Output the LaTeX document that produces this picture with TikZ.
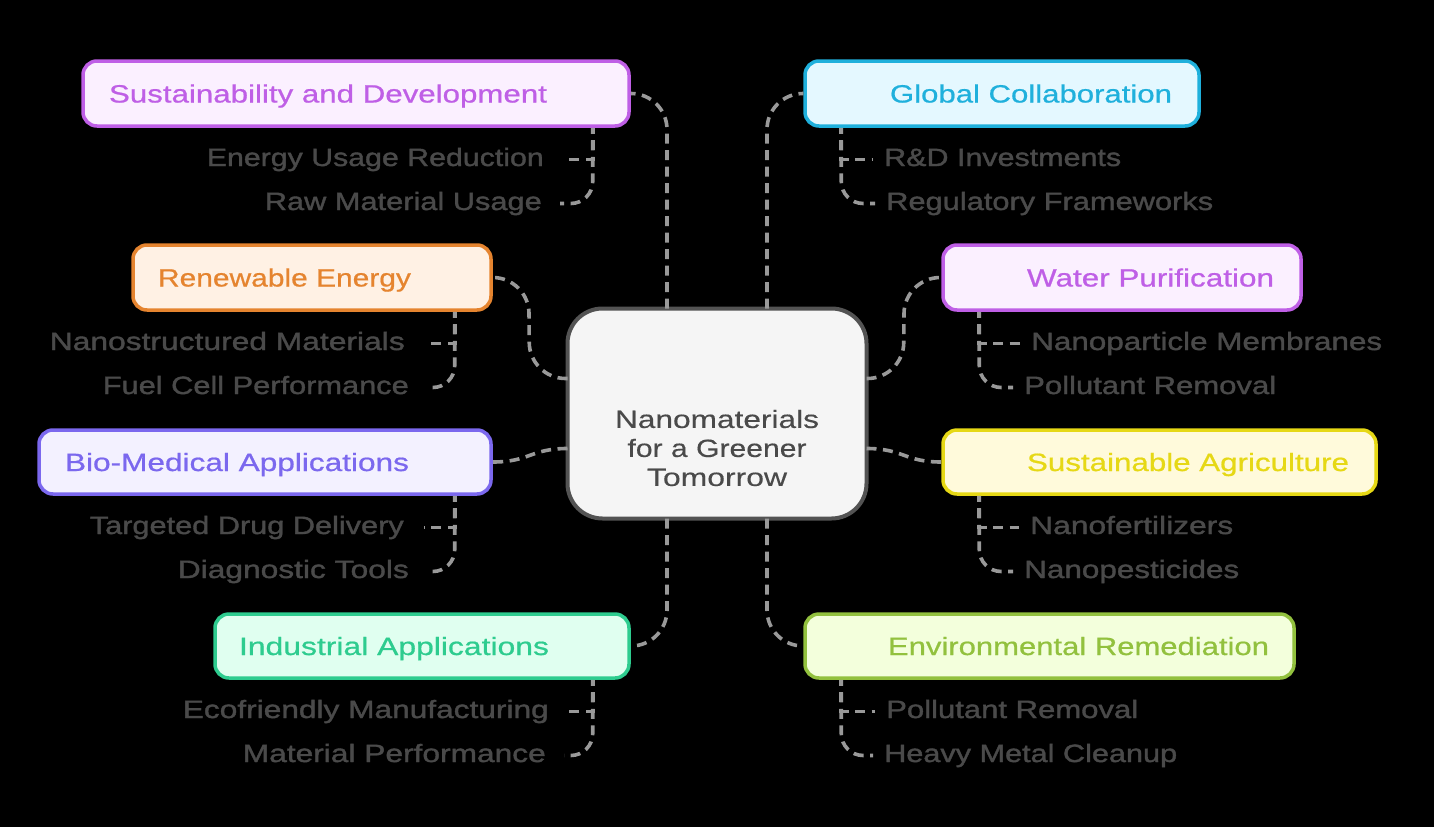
\documentclass[tikz,border=0pt]{standalone}
\usepackage{graphicx}
\usepackage{fontspec}
\setmainfont[FakeStretch=1.2,FakeBold=0.3]{Liberation Sans}
\newfontfamily\medfont[FakeStretch=1.2,FakeBold=0.7]{Liberation Sans}
\newfontfamily\kidfont[FakeStretch=1.2,FakeBold=1.4]{Liberation Sans}
\usetikzlibrary{calc}
\definecolor{cgray}{HTML}{999999}
\definecolor{tgray}{HTML}{4A4A4A}
\definecolor{purp}{HTML}{BF5FE6}\definecolor{purpf}{HTML}{FBF0FF}
\definecolor{cyan}{HTML}{1FB0DC}\definecolor{cyanf}{HTML}{E4F8FF}
\definecolor{oran}{HTML}{E5842F}\definecolor{oranf}{HTML}{FFF1E4}
\definecolor{viol}{HTML}{7B68EE}\definecolor{violf}{HTML}{F3F1FF}
\definecolor{yell}{HTML}{E6D815}\definecolor{yellf}{HTML}{FFFADB}
\definecolor{gree}{HTML}{2ECC8F}\definecolor{greef}{HTML}{E0FFF0}
\definecolor{lime}{HTML}{92C13E}\definecolor{limef}{HTML}{F3FFDC}
\newcommand{\fitw}[2]{\resizebox{#1pt}{\height}{#2}}
\tikzset{
  topic/.style={draw=#1,fill=#1f,text=#1,line width=3.5pt,rounded corners=14,inner ysep=0pt,
     font=\fontsize{25}{29}\medfont,text height=18,text depth=0},
  kid/.style={text=tgray,inner sep=0pt,font=\fontsize{25}{29}\kidfont,text height=18,text depth=5},
  conn/.style={draw=cgray,line width=3.6pt,dash pattern=on 10pt off 6.5pt},
  kidconn/.style={conn,dash phase=4pt},
  soft/.style={conn,rounded corners=#1},
}
% name, x1, y1, x2, y2, inset, colour, text width, text
\newcommand{\topicbox}[9]{%
  \pgfmathsetmacro{\bh}{#5-#3-2}\pgfmathsetmacro{\ti}{#4-#2-2-2*(#6)}%
  \node[topic=#7,inner xsep=#6,minimum height=\bh,anchor=center] (#1) at ({(#2+#4)/2},{(#3+#5)/2}) {\makebox[\ti pt][l]{\fitw{#8}{#9}}};}
\newcommand{\kidsleft}[3]{%
  \draw[kidconn] ($(#1.south east)+(-38,0)$) |- ($(#2.east)+(20,0)$);
  \draw[kidconn,rounded corners=22] ($(#1.south east)+(-38,0)$) |- ($(#3.east)+(18,0)$);}
\newcommand{\kidsright}[3]{%
  \draw[kidconn] ($(#1.south west)+(38,0)$) |- ($(#2.west)+(-11,0)$);
  \draw[kidconn,rounded corners=22] ($(#1.south west)+(38,0)$) |- ($(#3.west)+(-11,0)$);}
\begin{document}
\begin{tikzpicture}[x=1pt,y=-1pt]
\useasboundingbox (0,0) rectangle (1434,827);
\fill[black] (0,0) rectangle (1434,827);
\node[draw=tgray!95,fill=black!4,line width=4pt,rounded corners=35,minimum width=299,minimum height=210,inner sep=0pt,outer sep=0pt] (c) at (717,413.5) {};
\node[text=tgray,align=center,inner sep=0pt,font=\fontsize{25}{29}\selectfont] (ctext) at (717,448) {\fitw{204}{Nanomaterials}\\\fitw{179}{for a Greener}\\\fitw{140}{Tomorrow}};
\topicbox{sd}{82}{60}{630}{127}{26}{purp}{438}{Sustainability and Development}
\topicbox{gc}{804}{60}{1200}{127}{85}{cyan}{282}{Global Collaboration}
\topicbox{re}{132}{244}{492}{311}{25}{oran}{253}{Renewable Energy}
\topicbox{wp}{942}{244}{1302}{311}{84}{purp}{247}{Water Purification}
\topicbox{bm}{38}{429}{492}{495}{26}{viol}{344}{Bio-Medical Applications}
\topicbox{sa}{942}{429}{1377}{495}{84}{yell}{322}{Sustainable Agriculture}
\topicbox{ia}{214}{613}{630}{679}{24}{gree}{310}{Industrial Applications}
\topicbox{er}{804}{613}{1295}{679}{83}{lime}{381}{Environmental Remediation}
\node[kid,anchor=base east] (k1) at (544,166) {\fitw{337}{Energy Usage Reduction}};
\node[kid,anchor=base east] (k2) at (542,210) {\fitw{277}{Raw Material Usage}};
\node[kid,anchor=base east] (k3) at (405,350) {\fitw{355}{Nanostructured Materials}};
\node[kid,anchor=base east] (k4) at (409,394) {\fitw{306}{Fuel Cell Performance}};
\node[kid,anchor=base east] (k5) at (404,534) {\fitw{314}{Targeted Drug Delivery}};
\node[kid,anchor=base east] (k6) at (409,578) {\fitw{231}{Diagnostic Tools}};
\node[kid,anchor=base east] (k7) at (549,718) {\fitw{366}{Ecofriendly Manufacturing}};
\node[kid,anchor=base east] (k8) at (546,762) {\fitw{303}{Material Performance}};
\node[kid,anchor=base west] (m1) at (884,166) {\fitw{237}{R\&D Investments}};
\node[kid,anchor=base west] (m2) at (886,210) {\fitw{327}{Regulatory Frameworks}};
\node[kid,anchor=base west] (m3) at (1031,350) {\fitw{351}{Nanoparticle Membranes}};
\node[kid,anchor=base west] (m4) at (1024,394) {\fitw{252}{Pollutant Removal}};
\node[kid,anchor=base west] (m5) at (1030,534) {\fitw{203}{Nanofertilizers}};
\node[kid,anchor=base west] (m6) at (1024,578) {\fitw{215}{Nanopesticides}};
\node[kid,anchor=base west] (m7) at (886,718) {\fitw{252}{Pollutant Removal}};
\node[kid,anchor=base west] (m8) at (884,762) {\fitw{293}{Heavy Metal Cleanup}};
% centre connectors, each starting at the central box
\draw[soft=36] ($(c.north)+(-50,0)$) |- (sd.east);
\draw[soft=36] ($(c.north)+(50,0)$) |- (gc.west);
\draw[soft=36] ($(c.south)+(-50,0)$) |- (ia.east);
\draw[soft=36] ($(c.south)+(50,0)$) |- (er.west);
\draw[soft=36] ($(c.west)+(0,-35)$) -- ($(c.west)+(-38,-35)$) -- ($(re.east)+(36,0)$) -- (re.east);
\draw[soft=36] ($(c.east)+(0,-35)$) -- ($(c.east)+(37,-35)$) -- ($(wp.west)+(-37,0)$) -- (wp.west);
\draw[conn] ($(c.west)+(0,35)$) .. controls +(-37,0) and ($(bm.east)+(37,0)$) .. (bm.east);
\draw[conn] ($(c.east)+(0,35)$) .. controls +(37,0) and ($(sa.west)+(-37,0)$) .. (sa.west);
\kidsleft{sd}{k1}{k2}
\kidsleft{re}{k3}{k4}
\kidsleft{bm}{k5}{k6}
\kidsleft{ia}{k7}{k8}
\kidsright{gc}{m1}{m2}
\kidsright{wp}{m3}{m4}
\kidsright{sa}{m5}{m6}
\kidsright{er}{m7}{m8}
\end{tikzpicture}
\end{document}
